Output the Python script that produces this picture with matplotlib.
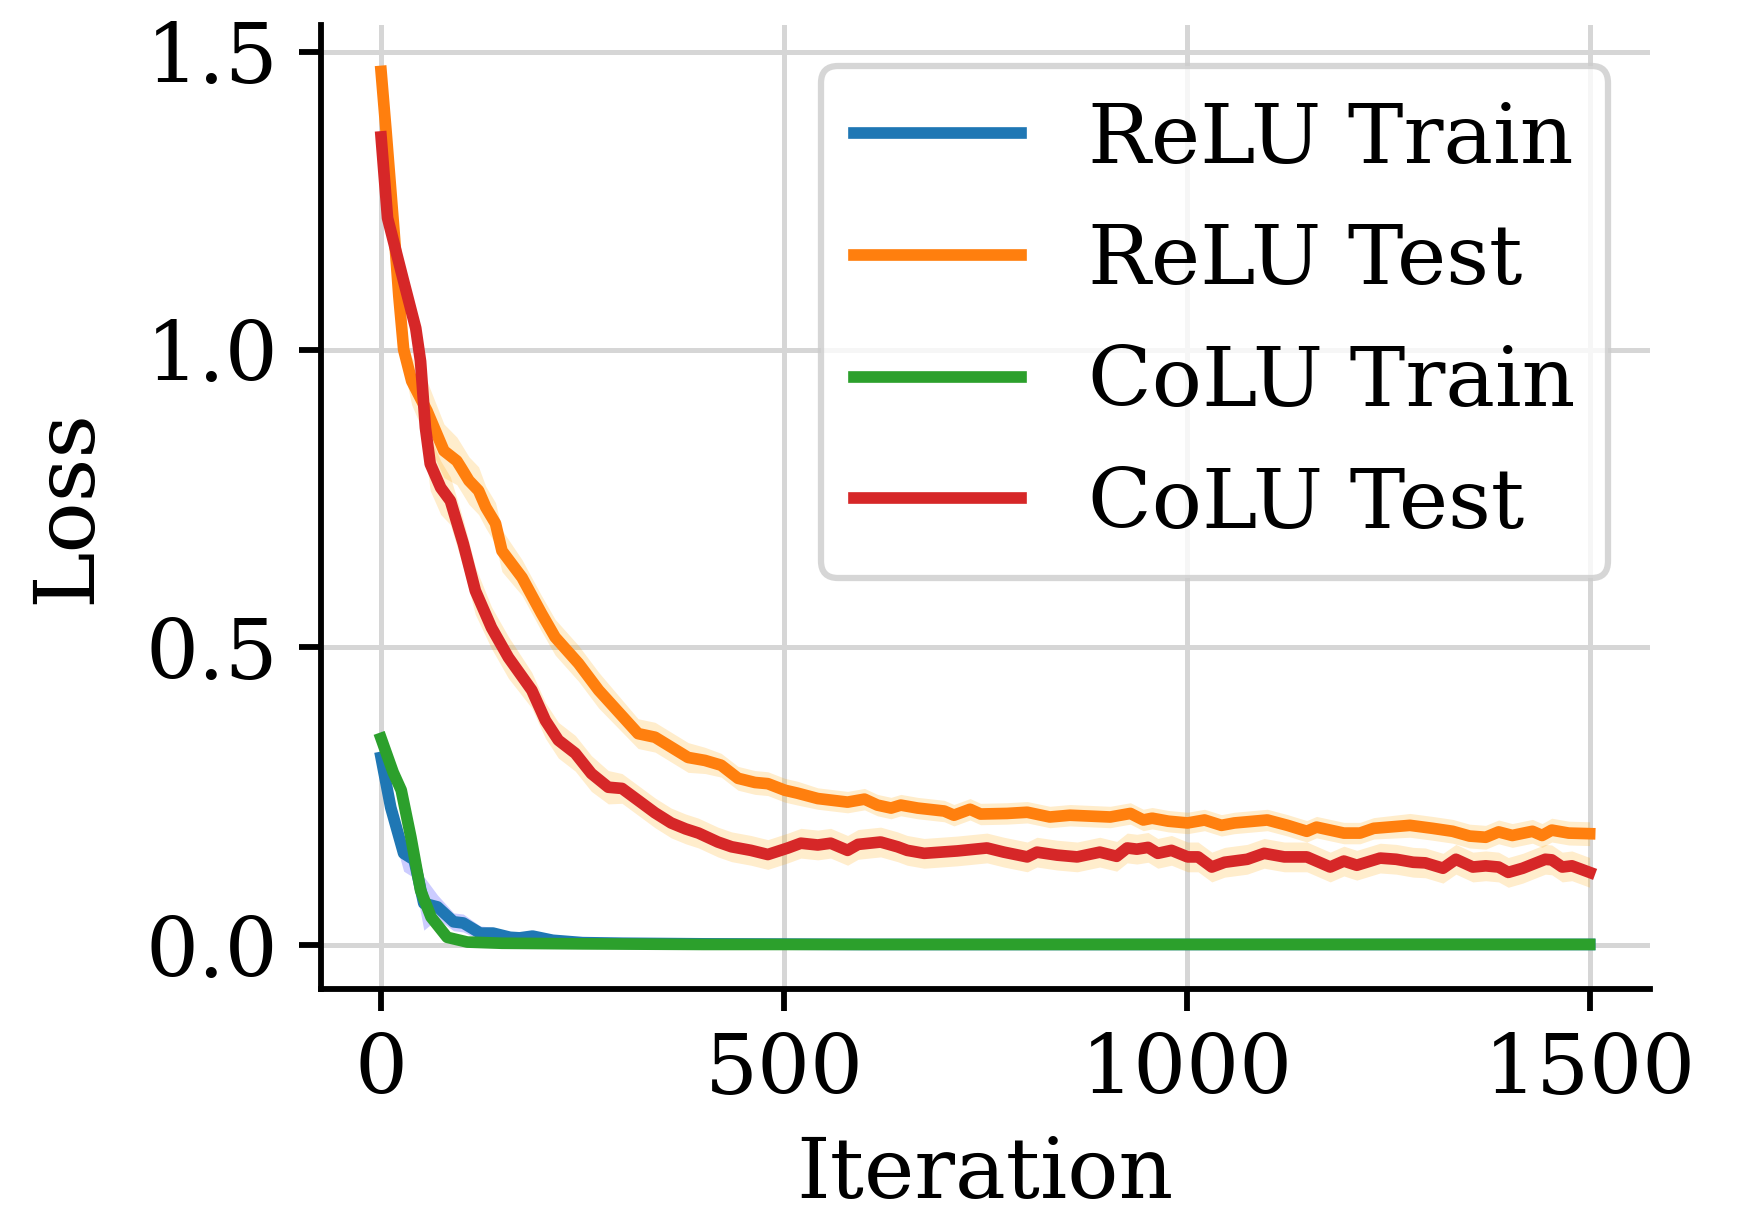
import numpy as np
import matplotlib
matplotlib.use("Agg")
import matplotlib.pyplot as plt

## Data
relu_train_x = [0, 12, 28, 41, 53, 70, 90, 102, 123, 139, 160, 172, 188, 213, 250, 300, 400, 600, 900, 1200, 1500]
relu_train_y = [0.315, 0.231, 0.154, 0.143, 0.07, 0.064, 0.039, 0.037, 0.02, 0.02, 0.013, 0.012, 0.015, 0.008,
                0.004, 0.003, 0.002, 0.001, 0.001, 0.001, 0.001]
relu_train_sd = [0.03, 0.03, 0.03, 0.03, 0.045, 0.02, 0.015, 0.015, 0.012, 0.01, 0.008, 0.008, 0.008, 0.006,
                 0.004, 0.003, 0.002, 0.001, 0.001, 0.001, 0.001]

colu_train_x = [0, 15, 25, 37, 49, 62, 82, 107, 150, 250, 400, 700, 1000, 1500]
colu_train_y = [0.347, 0.29, 0.26, 0.181, 0.092, 0.047, 0.013, 0.005, 0.003, 0.002, 0.001, 0.001, 0.001, 0.001]
colu_train_sd = [0.015, 0.015, 0.015, 0.015, 0.015, 0.012, 0.008, 0.004, 0.003, 0.002, 0.001, 0.001, 0.001, 0.001]

relu_test_x = [0, 6, 16, 22, 28, 38, 57, 78, 94, 100, 109, 121, 130, 142, 150, 175, 199, 216, 245, 270,
               319, 340, 381, 402, 422, 443, 464, 480, 501, 517, 542, 579, 600, 616, 633, 645, 666, 699, 711, 731,
               744, 777, 802, 830, 855, 905, 930, 946, 957, 977, 1001, 1022, 1043, 1059, 1100, 1125, 1149, 1161,
               1195, 1215, 1232, 1277, 1305, 1330, 1351, 1371, 1387, 1404, 1429, 1441, 1453, 1474, 1500]
relu_test_y = [1.467, 1.37, 1.20, 1.09, 1.00, 0.947, 0.897, 0.83, 0.813, 0.80, 0.78, 0.763, 0.735, 0.708, 0.662,
               0.617, 0.557, 0.517, 0.473, 0.428, 0.355, 0.349, 0.315, 0.31, 0.302, 0.28, 0.273, 0.271, 0.26, 0.255,
               0.246, 0.24, 0.245, 0.235, 0.23, 0.235, 0.23, 0.225, 0.218, 0.228, 0.22, 0.221, 0.223, 0.215, 0.218,
               0.215, 0.221, 0.21, 0.213, 0.208, 0.205, 0.21, 0.201, 0.205, 0.21, 0.201, 0.191, 0.198, 0.188, 0.188,
               0.196, 0.201, 0.196, 0.191, 0.183, 0.181, 0.19, 0.184, 0.191, 0.184, 0.193, 0.188, 0.187]
relu_test_sd = [0.005, 0.015, 0.02, 0.025, 0.03, 0.04, 0.05, 0.045, 0.04, 0.04, 0.04, 0.04, 0.035, 0.035, 0.035,
                0.03, 0.03, 0.03, 0.03, 0.03, 0.025, 0.025, 0.025, 0.022, 0.02, 0.02, 0.02, 0.02, 0.02, 0.02,
                0.018, 0.018, 0.018, 0.018, 0.018, 0.018, 0.018, 0.018, 0.018, 0.018, 0.018, 0.018, 0.018, 0.018, 0.018,
                0.018, 0.018, 0.018, 0.018, 0.018, 0.018, 0.018, 0.018, 0.018, 0.018, 0.018, 0.018, 0.018, 0.018, 0.018,
                0.018, 0.02, 0.02, 0.02, 0.02, 0.02, 0.02, 0.02, 0.02, 0.02, 0.02, 0.02, 0.02]

colu_test_x = [0, 8, 27, 43, 49, 55, 61, 74, 86, 102, 117, 137, 158, 187, 204, 220, 241, 261, 282, 299,
               319, 340, 360, 378, 394, 418, 435, 459, 480, 505, 521, 542, 558, 579, 592, 620, 641, 653, 674, 715,
               752, 773, 802, 814, 839, 864, 892, 913, 926, 938, 952, 964, 981, 1001, 1014, 1031, 1047, 1075, 1096,
               1121, 1149, 1178, 1195, 1211, 1240, 1260, 1281, 1296, 1318, 1334, 1355, 1371, 1387, 1399, 1417, 1445,
               1453, 1466, 1478, 1500]
colu_test_y = [1.357, 1.221, 1.12, 1.036, 0.98, 0.869, 0.808, 0.768, 0.746, 0.674, 0.595, 0.533, 0.483, 0.428,
               0.377, 0.344, 0.322, 0.288, 0.265, 0.263, 0.243, 0.222, 0.205, 0.195, 0.188, 0.173, 0.165, 0.159,
               0.152, 0.163, 0.171, 0.168, 0.171, 0.159, 0.169, 0.173, 0.165, 0.159, 0.154, 0.158, 0.163, 0.156,
               0.148, 0.156, 0.151, 0.148, 0.156, 0.149, 0.163, 0.161, 0.164, 0.154, 0.159, 0.148, 0.148, 0.131,
               0.139, 0.144, 0.154, 0.148, 0.148, 0.131, 0.141, 0.134, 0.146, 0.144, 0.139, 0.138, 0.129, 0.144,
               0.131, 0.133, 0.131, 0.122, 0.129, 0.144, 0.143, 0.131, 0.133, 0.122]
colu_test_sd = [0.005, 0.015, 0.025, 0.03, 0.04, 0.045, 0.045, 0.045, 0.04, 0.04, 0.04, 0.035, 0.035, 0.03,
                0.03, 0.03, 0.03, 0.03, 0.028, 0.025, 0.025, 0.025, 0.025, 0.025, 0.025, 0.025, 0.025, 0.025,
                0.025, 0.025, 0.025, 0.025, 0.025, 0.025, 0.025, 0.025, 0.025, 0.025, 0.025, 0.025, 0.025, 0.025,
                0.025, 0.025, 0.025, 0.025, 0.025, 0.025, 0.025, 0.025, 0.025, 0.025, 0.025, 0.025, 0.025, 0.025,
                0.025, 0.025, 0.025, 0.025, 0.025, 0.025, 0.025, 0.025, 0.025, 0.025, 0.025, 0.025, 0.025, 0.025,
                0.025, 0.025, 0.025, 0.025, 0.025, 0.025, 0.025, 0.025, 0.025, 0.025]

## Style
plt.rcParams['font.family'] = ['DejaVu Serif']
plt.rcParams['axes.linewidth'] = 1.4

fig = plt.figure(figsize=(1758 / 300, 1208 / 300), dpi=300)
ax = fig.add_axes([0.1824, 0.1814, 0.7562, 0.7982])

series = [
    ("ReLU Train", relu_train_x, relu_train_y, relu_train_sd, "tab:blue", "blue"),
    ("ReLU Test", relu_test_x, relu_test_y, relu_test_sd, "tab:orange", "orange"),
    ("CoLU Train", colu_train_x, colu_train_y, colu_train_sd, "tab:green", "blue"),
    ("CoLU Test", colu_test_x, colu_test_y, colu_test_sd, "tab:red", "orange"),
]
for name, x, y, sd, col, band in series:
    x = np.array(x)
    y = np.array(y)
    sd = np.array(sd)
    ax.plot(x, y, color=col, lw=2.8, label=name, zorder=3)
    ax.fill_between(x, y - sd, y + sd, color=band, alpha=0.2, lw=0, zorder=2)

ax.grid(True, color='#d6d6d6', lw=1.2)
ax.set_axisbelow(True)
ax.spines['top'].set_visible(False)
ax.spines['right'].set_visible(False)
ax.tick_params(labelsize=20, length=5.3, width=1.4, pad=4.8)
ax.set_xticks([0, 500, 1000, 1500])
ax.set_yticks([0.0, 0.5, 1.0, 1.5])
ax.set_xlabel("Iteration", fontsize=20.4, labelpad=5.5)
ax.set_ylabel("Loss", fontsize=20.4, labelpad=9)

leg = ax.legend(loc='upper right', fontsize=20.0, labelspacing=0.5)
leg.get_frame().set_linewidth(1.5)

plt.savefig("out.png", dpi=300)
